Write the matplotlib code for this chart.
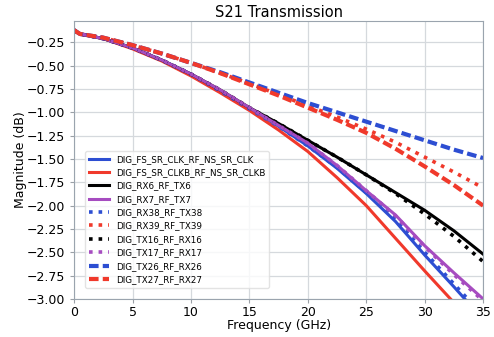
import numpy as np
import matplotlib
matplotlib.use("Agg")
import matplotlib.pyplot as plt

# frequency grid (GHz) shared by every trace
freq = [0, 0.5, 2.5, 5, 7.5, 10, 12.5, 15, 17.5, 20, 22.5, 25, 27.5, 30, 32.5, 35]

# S21 magnitude (dB)
clk = [-0.12, -0.16, -0.21, -0.31, -0.44, -0.59, -0.77, -0.96, -1.15, -1.36, -1.60, -1.87, -2.17, -2.53, -2.87, -3.22]
clkb = [-0.12, -0.16, -0.21, -0.32, -0.45, -0.61, -0.79, -0.98, -1.19, -1.42, -1.70, -2.00, -2.35, -2.70, -3.04, -3.40]
rx6 = [-0.12, -0.16, -0.21, -0.31, -0.44, -0.59, -0.76, -0.95, -1.12, -1.30, -1.48, -1.67, -1.86, -2.05, -2.27, -2.52]
rx7 = [-0.12, -0.16, -0.21, -0.31, -0.44, -0.59, -0.76, -0.95, -1.14, -1.33, -1.57, -1.84, -2.10, -2.43, -2.72, -3.00]
rx38 = [-0.12, -0.16, -0.21, -0.31, -0.44, -0.59, -0.77, -0.96, -1.15, -1.36, -1.59, -1.86, -2.15, -2.50, -2.84, -3.18]
rx39 = [-0.12, -0.16, -0.20, -0.28, -0.37, -0.47, -0.58, -0.69, -0.81, -0.93, -1.05, -1.18, -1.32, -1.48, -1.64, -1.81]
tx16 = [-0.12, -0.16, -0.21, -0.31, -0.44, -0.59, -0.76, -0.95, -1.12, -1.30, -1.48, -1.67, -1.87, -2.09, -2.33, -2.60]
tx17 = [-0.12, -0.16, -0.21, -0.31, -0.44, -0.59, -0.76, -0.95, -1.14, -1.33, -1.57, -1.84, -2.11, -2.44, -2.74, -3.02]
tx26 = [-0.12, -0.16, -0.20, -0.28, -0.37, -0.47, -0.57, -0.68, -0.79, -0.90, -1.00, -1.10, -1.20, -1.30, -1.40, -1.49]
tx27 = [-0.12, -0.16, -0.20, -0.28, -0.37, -0.47, -0.58, -0.70, -0.82, -0.95, -1.08, -1.22, -1.39, -1.58, -1.78, -2.00]

labels = ["DIG_FS_SR_CLK_RF_NS_SR_CLK", "DIG_FS_SR_CLKB_RF_NS_SR_CLKB",
          "DIG_RX6_RF_TX6", "DIG_RX7_RF_TX7", "DIG_RX38_RF_TX38",
          "DIG_RX39_RF_TX39", "DIG_TX16_RF_RX16", "DIG_TX17_RF_RX17",
          "DIG_TX26_RF_RX26", "DIG_TX27_RF_RX27"]
series = [clk, clkb, rx6, rx7, rx38, rx39, tx16, tx17, tx26, tx27]

blue, red, black, purple = "#2d4ed2", "#f0392b", "#000000", "#a64cc0"
colors = [blue, red, black, purple] * 2 + [blue, red]
styles = ["-"] * 4 + [":"] * 4 + ["--"] * 2

fig = plt.figure(figsize=(4.94, 3.37), dpi=100)
ax = fig.add_axes([0.150, 0.113, 0.828, 0.825])

for y, lab, c, ls in zip(series, labels, colors, styles):
    if ls == "-":
        ax.plot(freq, y, color=c, linestyle=ls, linewidth=2.2, label=lab)
    elif ls == ":":
        ax.plot(freq, y, color=c, linestyle=ls, linewidth=2.6, label=lab)
    else:
        ax.plot(freq, y, color=c, linewidth=3.0, dashes=(2.3, 1.0), label=lab)

ax.set_xlim(0, 35)
ax.set_ylim(-3.0, -0.02)
ax.set_xticks(np.arange(0, 36, 5))
ax.set_yticks(np.arange(-3.0, -0.2, 0.25))
ax.tick_params(labelsize=9, length=3, color="#9aa0a6")
ax.tick_params(axis="x", pad=2)
ax.grid(True, color="#d5d9dd", linewidth=0.9)
for s in ax.spines.values():
    s.set_color("#9aa4ae")

ax.set_title("S21 Transmission", fontsize=10.5, pad=3)
ax.set_xlabel("Frequency (GHz)", fontsize=9, labelpad=0)
ax.set_ylabel("Magnitude (dB)", fontsize=9, labelpad=0)

ax.legend(loc="lower left", fontsize=6.3, frameon=True, handlelength=2.3,
          labelspacing=0.5, borderaxespad=1.3, edgecolor="#dddddd")

fig.savefig("out.png", dpi=100)
